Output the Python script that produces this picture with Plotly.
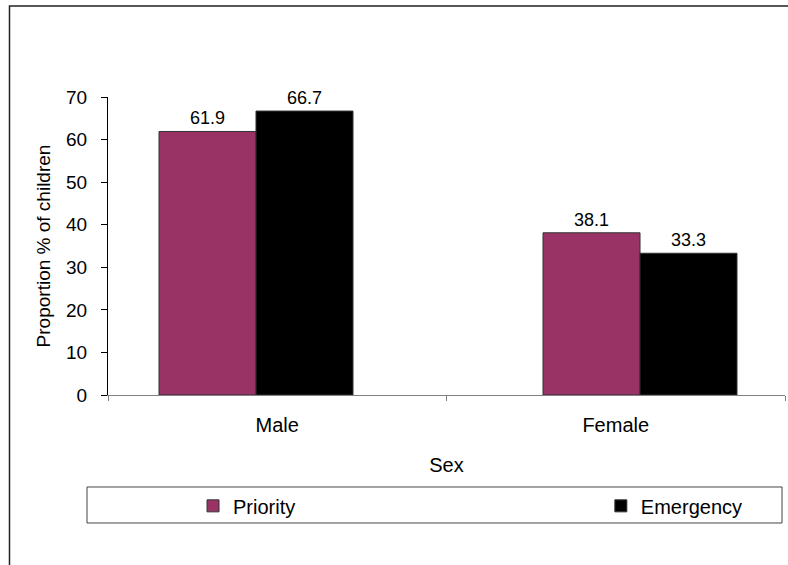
import plotly.graph_objects as go

categories = ["Male", "Female"]
priority = [61.9, 38.1]
emergency = [66.7, 33.3]
series_names = ["Priority", "Emergency"]
y_ticks = [0, 10, 20, 30, 40, 50, 60, 70]

FONT = "Arial, Liberation Sans, sans-serif"

# bar width and left-edge offsets (in category units) for each group
BAR_W = 0.2866
priority_offset = [-0.3493, -0.2149]
emergency_offset = [-0.0628, 0.0716]

fig = go.Figure()
fig.add_trace(go.Bar(
    x=categories, y=priority, name=series_names[0],
    width=BAR_W, offset=priority_offset,
    marker=dict(color="#993366", line=dict(color="#333333", width=1)),
    text=[f"{v:.1f}" for v in priority], textposition="outside",
    textfont=dict(size=18, color="#000000"), cliponaxis=False,
    legend="legend",
))
fig.add_trace(go.Bar(
    x=categories, y=emergency, name=series_names[1],
    width=BAR_W, offset=emergency_offset,
    marker=dict(color="#000000", line=dict(color="#333333", width=1)),
    text=[f"{v:.1f}" for v in emergency], textposition="outside",
    textfont=dict(size=18, color="#000000"), cliponaxis=False,
    legend="legend2",
))

# outer frame and legend box
fig.add_shape(type="rect", xref="paper", yref="paper",
              x0=-0.1455, x1=1.2, y0=-0.8, y1=1.305,
              line=dict(color="#222222", width=1.5), layer="below")
fig.add_shape(type="rect", xref="paper", yref="paper",
              x0=-0.031, x1=0.9956, y0=-0.4295, y1=-0.3087,
              line=dict(color="#444444", width=1), layer="below")

legend_common = dict(orientation="h", xanchor="left", yanchor="middle", y=-0.372,
                     bgcolor="rgba(0,0,0,0)", borderwidth=0,
                     font=dict(size=20, family=FONT, color="#000000"))

fig.update_layout(
    width=788, height=565,
    margin=dict(l=108, r=3, t=97, b=170),
    paper_bgcolor="white", plot_bgcolor="white",
    font=dict(family=FONT, size=19, color="#000000"),
    barmode="overlay",
    showlegend=True,
    legend=dict(x=0.1256, **legend_common),
    legend2=dict(x=0.728, **legend_common),
)
fig.update_xaxes(
    range=[-0.5, 1.5], showline=True, linecolor="#808080", linewidth=1,
    ticks="outside", tickson="boundaries", ticklen=5, tickcolor="#808080",
    showgrid=False, zeroline=False,
    ticklabelstandoff=12,
    title=dict(text="Sex", standoff=22, font=dict(size=20)),
    tickfont=dict(size=20),
)
fig.update_yaxes(
    range=[0, 70], tickvals=y_ticks, showline=True, linecolor="#000000", linewidth=1,
    ticks="outside", ticklen=6, tickcolor="#000000",
    showgrid=False, zeroline=False,
    ticklabelstandoff=10,
    title=dict(text="Proportion % of children", standoff=10, font=dict(size=19)),
    tickfont=dict(size=19),
)

fig.write_html("out.html")
